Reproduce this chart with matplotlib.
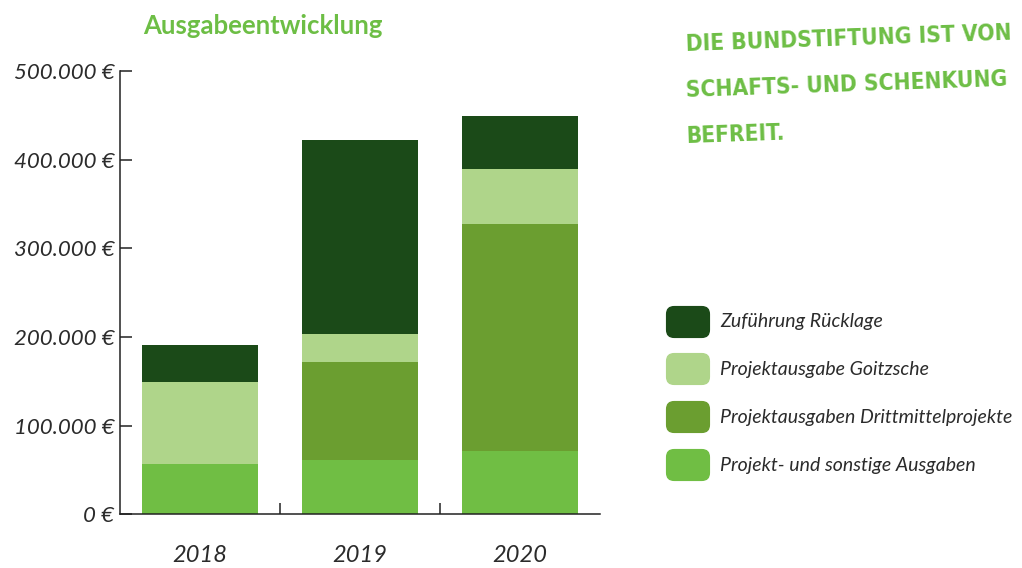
import matplotlib.pyplot as plt
import numpy as np
from matplotlib.patches import FancyBboxPatch

years = ["2018", "2019", "2020"]
series = [
    "Projekt- und sonstige Ausgaben",
    "Projektausgaben Drittmittelprojekte",
    "Projektausgabe Goitzsche",
    "Zuführung Rücklage",
]
sonstige = [56700, 61200, 71400]
drittmittel = [0, 110600, 256000]
goitzsche = [92500, 31600, 62100]
ruecklage = [41800, 218800, 59700]
colors = ["#70be44", "#6b9e30", "#afd58a", "#1b4a18"]
yticks = [0, 100000, 200000, 300000, 400000, 500000]
ytick_labels = ["0 €", "100.000 €", "200.000 €", "300.000 €", "400.000 €", "500.000 €"]

plt.rcParams["font.family"] = ["Lato", "DejaVu Sans"]
text_col = "#2b2b2b"
green = "#6dbe45"

fig = plt.figure(figsize=(10.22, 5.68), dpi=100)
ax = fig.add_axes([0.1174, 0.0945, 0.4697, 0.7805])

x = np.arange(len(years))
bottom = np.zeros(len(years))
for vals, col in zip([sonstige, drittmittel, goitzsche, ruecklage], colors):
    ax.bar(x, vals, 0.725, bottom=bottom, color=col, linewidth=0)
    bottom += np.array(vals)

ax.set_xlim(-0.5, 2.5)
ax.set_ylim(0, 500000)
ax.set_yticks(yticks)
ax.set_yticklabels(ytick_labels, fontsize=16, style="italic", color=text_col)
ax.set_xticks(x)
ax.set_xticklabels(years, fontsize=17, style="italic", color=text_col)
ax.set_xticks([0.5, 1.5], minor=True)
ax.tick_params(axis="x", which="major", length=0, pad=22)
ax.tick_params(axis="x", which="minor", direction="in", length=8, width=1.1, color="#222222")
ax.tick_params(axis="y", direction="in", length=8.5, width=1.1, color="#222222", pad=4)
for s in ["top", "right"]:
    ax.spines[s].set_visible(False)
for s in ["left", "bottom"]:
    ax.spines[s].set_color("#222222")
    ax.spines[s].set_linewidth(1.1)

fig.text(143 / 1022, 1 - 26 / 568, "Ausgabeentwicklung", fontsize=18.5, fontweight="bold",
         color=green, va="center", ha="left")

# legend with rounded swatches, top entry = top segment
W, H = 1022, 568
rows_y = [322, 369, 417, 465]
for name, col, yc in zip(series[::-1], colors[::-1], rows_y):
    box = FancyBboxPatch(((666 + 3) / W, 1 - (yc + 13) / H), 38 / W, 26 / H,
                         boxstyle="round,pad=0.003,rounding_size=0.008",
                         transform=fig.transFigure, facecolor=col, edgecolor="none",
                         mutation_aspect=W / H)
    fig.patches.append(box)
    fig.text(720 / W, 1 - yc / H, name, fontsize=14, style="italic", color=text_col,
             va="center", ha="left")

# handwritten note, top right
note = ["DIE BUNDSTIFTUNG IST VON", "SCHAFTS- UND SCHENKUNG", "BEFREIT."]
for i, line in enumerate(note):
    fig.text(686 / W, 1 - (51 + i * 46) / H, line, fontsize=16.3, color=green,
             fontfamily="DejaVu Sans", fontstretch="condensed", fontweight="semibold",
             rotation=2, rotation_mode="anchor", ha="left", va="baseline")

fig.savefig("out.png", dpi=100)
